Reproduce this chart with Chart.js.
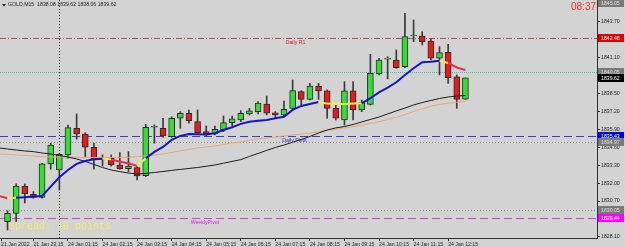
<!DOCTYPE html>
<html>
<head>
<meta charset="utf-8">
<script src="https://cdn.jsdelivr.net/npm/chart.js@4.4.1/dist/chart.umd.min.js"></script>
<style>
html,body{margin:0;padding:0;background:#d3d3d3;}
canvas{display:block;}
</style>
</head>
<body>
<canvas id="goldChart" width="625" height="247"></canvas>
<script>
// GOLD M15 - bar 0 is 24 Jan 01:15, every bar is 15 minutes
var symbolName = "GOLD,M15";
var firstCandle = -7;//index of the first candle in the arrays below
var opens = [1829.21,1829.81,1831.79,1831.19,1830.97,1833.39,1832.95,
	1834.04,1835.97,1835.56,1834.60,1833.75,1833.80,1833.31,1833.05,1833.12,1832.54,
	1836.05,1835.97,1835.37,1836.70,1837.06,1836.45,1835.73,1835.56,1835.85,1836.38,
	1836.57,1837.01,1837.18,1837.73,1837.10,1836.92,1837.42,1838.63,1838.07,1839.02,
	1838.68,1837.42,1836.57,1838.68,1837.30,1837.71,1839.91,1840.99,1840.92,1840.44,
	1842.66,1842.66,1842.30,1841.05,1841.48,1839.71,1838.08];
var highs = [1830.00,1831.94,1831.94,1831.38,1833.44,1834.89,1834.16,
	1836.21,1837.01,1835.65,1834.89,1834.04,1834.04,1834.21,1834.28,1833.31,1836.26,
	1836.21,1836.70,1836.81,1837.18,1837.30,1837.30,1836.14,1836.14,1836.86,1836.86,
	1837.25,1837.42,1837.90,1838.31,1837.18,1837.95,1839.47,1838.70,1839.23,1839.23,
	1838.75,1837.66,1839.35,1839.35,1838.02,1841.34,1841.05,1841.16,1841.65,1844.31,
	1843.82,1842.97,1842.42,1841.89,1842.06,1839.84,1839.62];
var lows = [1828.60,1829.21,1830.56,1830.90,1830.90,1833.00,1831.50,
	1833.80,1835.18,1833.92,1833.00,1833.24,1833.24,1833.00,1832.83,1832.23,1832.47,
	1834.89,1835.32,1835.32,1835.97,1836.34,1835.61,1835.42,1835.49,1835.73,1836.14,
	1836.45,1836.94,1837.01,1836.94,1836.70,1836.81,1837.35,1837.66,1838.02,1838.07,
	1836.70,1836.57,1836.21,1836.57,1837.18,1837.66,1839.84,1839.55,1840.32,1840.36,
	1842.25,1842.01,1840.92,1839.84,1839.23,1837.42,1838.06];
var closes = [1829.81,1831.79,1831.21,1830.97,1833.39,1834.76,1834.09,
	1836.02,1835.56,1834.60,1833.75,1833.73,1833.31,1833.05,1833.24,1832.52,1836.05,
	1836.06,1835.42,1836.70,1837.06,1836.52,1835.65,1835.56,1835.90,1836.38,1836.65,
	1837.06,1837.23,1837.79,1837.06,1836.94,1837.35,1838.70,1838.07,1839.04,1838.68,
	1837.42,1836.70,1838.68,1837.30,1837.86,1839.96,1840.92,1841.00,1840.36,1842.61,
	1842.66,1842.25,1841.05,1841.45,1839.64,1838.07,1839.62];

// moving averages, one value per bar starting one bar earlier
var firstMaBar = -8;
var fastMa = [1831.07,1830.90,1830.94,1830.98,1831.02,1831.07,1831.74,1832.42,
	1832.95,1833.39,1833.60,1833.73,1833.76,1833.72,1833.55,1833.44,1833.24,1833.80,
	1834.26,1834.62,1835.13,1835.42,1835.56,1835.54,1835.52,1835.61,1835.85,1836.05,
	1836.29,1836.45,1836.52,1836.58,1836.70,1836.81,1837.30,1837.59,1837.73,1837.88,
	1837.76,1837.73,1837.73,1837.76,1837.78,1838.15,1838.58,1838.92,1839.31,1839.84,
	1840.32,1840.76,1840.80,1840.87,1840.71,1840.38,1840.20];
var slowMa = [1834.55,1834.47,1834.40,1834.33,1834.28,1834.18,1834.11,1834.00,
	1833.89,1833.75,1833.57,1833.35,1833.13,1832.95,1832.83,1832.73,1832.66,1832.70,
	1832.77,1832.84,1832.92,1832.99,1833.06,1833.13,1833.22,1833.31,1833.44,1833.57,
	1833.70,1833.93,1834.15,1834.37,1834.58,1834.76,1834.96,1835.16,1835.38,1835.63,
	1835.85,1836.00,1836.10,1836.25,1836.43,1836.61,1836.79,1837.01,1837.23,1837.44,
	1837.66,1837.84,1837.99,1838.13,1838.24,1838.31,1838.35];
var midMa = [1834.11,1834.08,1834.04,1834.00,1833.97,1833.93,1833.89,1833.89,
	1833.88,1833.87,1833.86,1833.86,1833.86,1833.86,1833.86,1833.87,1833.92,1833.97,
	1834.04,1834.11,1834.22,1834.33,1834.44,1834.55,1834.62,1834.69,1834.80,1834.91,
	1834.98,1835.09,1835.20,1835.27,1835.34,1835.42,1835.49,1835.56,1835.63,1835.72,
	1835.81,1835.90,1836.00,1836.10,1836.21,1836.32,1836.45,1836.60,1836.77,1836.97,
	1837.19,1837.39,1837.57,1837.70,1837.79,1837.86,1837.90];

// axis
var priceTicks = [1843.70,1842.40,1841.10,1839.80,1838.50,1837.20,1835.90,1834.60,1833.30,1832.00,1830.70,1829.40,1828.10];
var timeLabels = ["21 Jan 2022","21 Jan 23:15","24 Jan 01:15","24 Jan 02:15","24 Jan 03:15","24 Jan 04:15","24 Jan 05:15",
	"24 Jan 06:15","24 Jan 07:15","24 Jan 08:15","24 Jan 09:15","24 Jan 10:15","24 Jan 11:15","24 Jan 12:15"];
var timeLabelBars = [-7.75,-4,0,4,8,12,16,20,24,28,32,36,40,44];
var daySeparatorBar = -1;//24 Jan 01:00

// horizontal levels drawn on the chart
var levelNames = ["Daily R1","","Daily Pivot","","","WeeklyPivot"];
var levelPrices = [1842.48,1840.05,1835.43,1834.97,1830.05,1829.44];
var topPrice = 1845.05;
var spreadPoints = 18;
var clockText = "08:37";

var fontName = "'Liberation Sans', Arial, sans-serif";
var smallSize = 5.2;//tiny MT4 style labels

window.onload = function(){

	var candleBodies = [], candleWicks = [], bodyColors = [];
	for (var i = 0; i < opens.length; i++){
		candleBodies.push({x: firstCandle + i, y: [opens[i], closes[i]]});
		candleWicks.push({x: firstCandle + i, y: [lows[i], highs[i]]});
		bodyColors.push(closes[i] >= opens[i] ? "#30e030" : "#e81a1a");
	}

	function maPoints(arr){
		var pts = [];
		for (var i = 0; i < arr.length; i++){ pts.push({x: firstMaBar + i, y: arr[i]}); }
		return pts;
	}

	// fast MA colour: blue rising, red falling, yellow where it turns
	var fastColors = [], state = "";
	for (var i = 1; i < fastMa.length; i++){
		var d = fastMa[i] - fastMa[i-1];
		if (d > 0.035) state = (state == "red") ? "yellow" : "blue";
		else if (d < -0.035) state = (state == "blue") ? "yellow" : "red";
		else if (state == "") state = "blue";
		fastColors.push(state);
	}
	var trendColor = {blue: "#1515c8", red: "#e0304c", yellow: "#f0f040"};

	// level styles, same order as levelPrices
	var levelStyle = [
		{color: "#c84848", dash: [6,2,1,2], text: "#d02020", box: "#e00000", boxText: "#ffffff", nameBar: 25.2},
		{color: "#40c0a0", dash: [1,1], box: "#7a7a7a", boxText: "#e0e0e0"},
		{color: "#3b3bd0", dash: [8,4], text: "#3030b0", box: "#0000e0", boxText: "#ffffff", nameBar: 24.8},
		{color: "#8a8a8a", dash: [1,2], box: "#7a7a7a", boxText: "#e0e0e0"},
		{color: "#8a8a8a", dash: [1,2], box: "#7a7a7a", boxText: "#e0e0e0"},
		{color: "#d040d0", dash: [8,4], text: "#e020e0", box: "#ff00ff", boxText: "#ffffff", nameBar: 14.2}
	];

	var background = {
		id: "background",
		beforeDraw: function(chart){
			var c = chart.ctx;
			c.save();
			c.fillStyle = "#d3d3d3";
			c.fillRect(0, 0, chart.width, chart.height);
			c.restore();
		}
	};

	var levels = {
		id: "levels",
		beforeDatasetsDraw: function(chart){
			var c = chart.ctx, a = chart.chartArea, ys = chart.scales.y, xs = chart.scales.x;
			c.save();
			c.beginPath(); c.rect(a.left, a.top, a.right - a.left, a.bottom - a.top); c.clip();
			c.lineWidth = 1;
			for (var i = 0; i < levelPrices.length; i++){
				var py = Math.round(ys.getPixelForValue(levelPrices[i])) + 0.5;
				c.strokeStyle = levelStyle[i].color;
				c.setLineDash(levelStyle[i].dash);
				c.beginPath(); c.moveTo(a.left, py); c.lineTo(a.right, py); c.stroke();
				if (levelNames[i]){
					c.setLineDash([]);
					c.fillStyle = levelStyle[i].text;
					c.font = smallSize + "px " + fontName;
					c.textBaseline = "top";
					c.fillText(levelNames[i], xs.getPixelForValue(levelStyle[i].nameBar), py + 1.5);
				}
			}
			// day separator
			var sx = Math.round(xs.getPixelForValue(daySeparatorBar)) + 0.5;
			c.strokeStyle = "#303030";
			c.setLineDash([1,2]);
			c.beginPath(); c.moveTo(sx, a.top); c.lineTo(sx, a.bottom); c.stroke();
			c.restore();
		},
		afterDraw: function(chart){
			var c = chart.ctx, a = chart.chartArea, ys = chart.scales.y;
			c.save();
			c.font = smallSize + "px " + fontName;
			c.textBaseline = "middle";
			function priceBox(price, bg, fg){
				var py = Math.round(ys.getPixelForValue(price));
				c.fillStyle = bg;
				c.fillRect(a.right + 1, py - 4, 26, 8);
				c.fillStyle = fg;
				c.fillText(price.toFixed(2), a.right + 4, py + 0.5);
			}
			priceBox(topPrice, "#7a7a7a", "#e0e0e0");
			for (var i = 0; i < levelPrices.length; i++){
				priceBox(levelPrices[i], levelStyle[i].box, levelStyle[i].boxText);
			}
			priceBox(closes[closes.length - 1], "#000000", "#ffffff");//bid

			// header
			var n = opens.length - 1;
			c.fillStyle = "#202020";
			c.beginPath(); c.moveTo(2, 4); c.lineTo(6, 4); c.lineTo(4, 6.5); c.fill();
			c.textBaseline = "top";
			c.fillText(symbolName + "  " + opens[n].toFixed(2) + " " + highs[n].toFixed(2) + " " + lows[n].toFixed(2) + " " + closes[n].toFixed(2), 8, 2);

			// clock
			c.fillStyle = "#e83434";
			c.font = "10px " + fontName;
			c.textAlign = "right";
			c.fillText(clockText, a.right - 1, 2);

			// spread
			c.textAlign = "left";
			c.fillStyle = "#f4f060";
			c.font = "10px 'Liberation Mono', monospace";
			c.fillText("Spread: " + spreadPoints + " points", 9, 221);
			c.restore();
		}
	};

	var ctx = document.getElementById("goldChart").getContext("2d");
	var chart = new Chart(ctx, {
		data: {
			datasets: [
				{type: "line", label: "fast", data: maPoints(fastMa), borderWidth: 2, pointRadius: 0, order: 1,
					borderColor: "#1515c8",
					segment: {borderColor: function(s){ return trendColor[fastColors[s.p0DataIndex]]; }}},
				{type: "line", label: "slow", data: maPoints(slowMa), borderColor: "#1e1e1e", borderWidth: 1, pointRadius: 0, order: 1},
				{type: "line", label: "mid", data: maPoints(midMa), borderColor: "#e8a874", borderWidth: 1, pointRadius: 0, order: 1},
				{type: "bar", label: "body", data: candleBodies, backgroundColor: bodyColors, borderColor: "#2a2a2a",
					borderWidth: 1, borderSkipped: false, barThickness: 6, grouped: false, minBarLength: 1, order: 2},
				{type: "bar", label: "wick", data: candleWicks, backgroundColor: "#3a3a3a", borderWidth: 0,
					barThickness: 1, grouped: false, order: 3}
			]
		},
		options: {
			responsive: false,
			animation: false,
			devicePixelRatio: 1,
			layout: {padding: 0},
			plugins: {legend: {display: false}, tooltip: {enabled: false}},
			scales: {
				x: {
					type: "linear", min: -7.87, max: 61.23, offset: false,
					grid: {drawOnChartArea: false, tickLength: 3, color: "#303030", offset: false},
					border: {color: "#303030"},
					ticks: {font: {family: fontName, size: smallSize}, color: "#202020", align: "start", padding: 0,
						maxRotation: 0, autoSkip: false,
						callback: function(v, i){ return timeLabels[i]; }},
					afterBuildTicks: function(s){ s.ticks = timeLabelBars.map(function(v){ return {value: v}; }); },
					afterFit: function(s){ s.height = 9; s.paddingLeft = 0; s.paddingRight = 0; }
				},
				y: {
					type: "linear", position: "right", min: 1828.02, max: 1845.27,
					grid: {drawOnChartArea: false, tickLength: 3, color: "#303030"},
					border: {color: "#303030"},
					ticks: {font: {family: fontName, size: smallSize}, color: "#202020", padding: 1, autoSkip: false,
						callback: function(v){ return v.toFixed(2); }},
					afterBuildTicks: function(s){ s.ticks = priceTicks.map(function(v){ return {value: v}; }); },
					afterFit: function(s){ s.width = 28; s.paddingTop = 0; s.paddingBottom = 0; }
				}
			}
		},
		plugins: [background, levels]
	});
}
</script>
</body>
</html>
